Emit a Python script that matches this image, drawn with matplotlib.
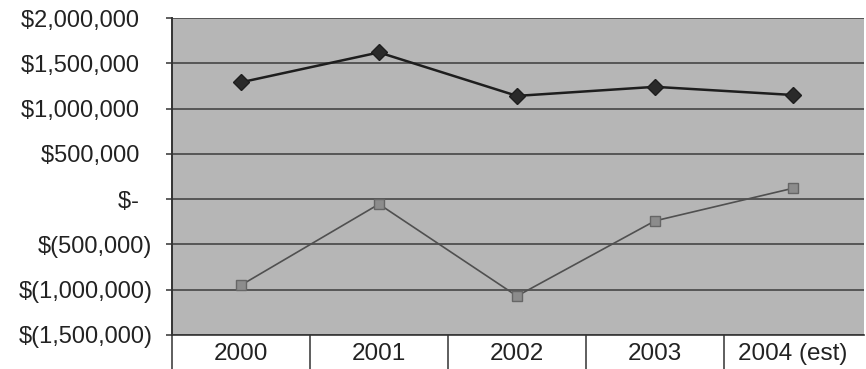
import numpy as np
import matplotlib.pyplot as plt
from matplotlib.ticker import FixedLocator, FuncFormatter

plt.rcParams['font.family'] = ['Liberation Sans', 'DejaVu Sans']

# data
years = ["2000", "2001", "2002", "2003", "2004 (est)"]
upper = [1290000, 1620000, 1140000, 1240000, 1150000]      # diamond series
lower = [-950000, -55000, -1070000, -240000, 120000]       # square series
yticks = [2000000, 1500000, 1000000, 500000, 0, -500000, -1000000, -1500000]


def money(v, pos=None):
    # accounting style: negatives in parens, zero as a dash
    if v == 0:
        return "$-  "
    if v < 0:
        return "$({:,.0f})".format(-v)
    return "${:,.0f}  ".format(v)


fig = plt.figure(figsize=(8.66, 3.69), dpi=100)
ax = fig.add_axes([172/866, 1-335/369, 692/866, 317/369])
ax.set_facecolor('#b6b6b6')

x = np.arange(len(years))
ax.plot(x, upper, color='#1e1e1e', lw=1.8, marker='D', ms=8,
        mfc='#2a2a2a', mec='#1e1e1e', zorder=4)
ax.plot(x, lower, color='#505050', lw=1.2, marker='s', ms=7,
        mfc='#8c8c8c', mec='#666666', zorder=4)

ax.set_ylim(-1500000, 2000000)
ax.set_xlim(-0.5, len(years) - 0.5 + 0.015)
ax.yaxis.set_major_locator(FixedLocator(yticks))
ax.yaxis.set_major_formatter(FuncFormatter(money))
for v in yticks:
    ax.axhline(v, color='#3c3c3c', lw=1.1, zorder=2)

ax.set_xticks(x)
ax.set_xticklabels(years)
ax.set_xticks(np.arange(len(years)) - 0.5, minor=True)
ax.tick_params(axis='x', which='major', length=0, pad=6, labelsize=17.5, colors='#222222')
ax.tick_params(axis='x', which='minor', length=25, width=1.1, direction='out', color='#333333')
ax.tick_params(axis='y', length=4, width=1.1, direction='out', pad=10,
               labelsize=17, colors='#333333', labelcolor='#222222')

for s in ['top', 'right']:
    ax.spines[s].set_visible(False)
ax.spines['left'].set_color('#333333')
ax.spines['left'].set_linewidth(1.4)
ax.spines['bottom'].set_color('#333333')
ax.spines['bottom'].set_linewidth(1.2)

fig.savefig('out.png', dpi=100, facecolor='white')
